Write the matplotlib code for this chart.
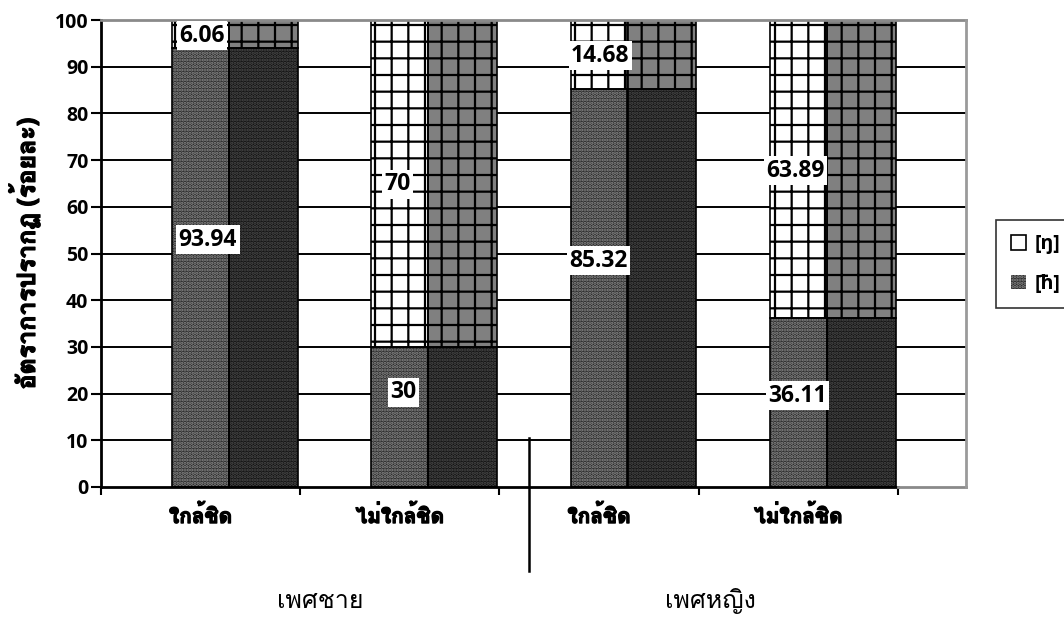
import matplotlib
matplotlib.use("Agg")
import matplotlib.pyplot as plt
import matplotlib.patheffects as pe
from matplotlib import font_manager
from matplotlib.ft2font import FT2Font
from matplotlib.patches import Patch
from matplotlib.lines import Line2D

# --- data -------------------------------------------------------------
categories = ["ใกล้ชิด", "ไม่ใกล้ชิด", "ใกล้ชิด", "ไม่ใกล้ชิด"]
groups = ["เพศชาย", "เพศหญิง"]
series_names = ["[ŋ]", "[ħ]"]
h_values = [93.94, 30, 85.32, 36.11]      # lower segment  [ħ]
ng_values = [6.06, 70, 14.68, 63.89]      # upper segment  [ŋ]
y_ticks = [0, 10, 20, 30, 40, 50, 60, 70, 80, 90, 100]
y_label = "อัตราการปรากฏ (ร้อยละ)"

# label placement (value-axis position of each value box)
ng_label_y = [96.6, 64.8, 92.3, 67.7]
h_label_y = [52.9, 20.3, 48.4, 19.5]
ng_label_dx = [0.15, 0.13, 0.15, 0.13]
h_label_dx = [0.18, 0.16, 0.14, 0.14]


def thai_families():
    found = []
    for f in font_manager.fontManager.ttflist:
        try:
            cmap = FT2Font(f.fname).get_charmap()
        except Exception:
            continue
        if 0x0E01 in cmap and f.name not in found:
            found.append(f.name)
    return found


thai = thai_families()
sans = ["Open Sans"] + thai + ["DejaVu Sans"]
plt.rcParams["font.family"] = sans
plt.rcParams["hatch.linewidth"] = 1.6

# heavier strokes for Thai text whose font has no bold face
thick = [pe.withStroke(linewidth=0.9, foreground="black")]

fig = plt.figure(figsize=(10.64, 6.17), dpi=100)
ax = fig.add_axes([101 / 1064, 1 - 487 / 617, 865 / 1064, 467 / 617])

unit = 199.25
xmax = 865 / unit
bar_off = 71 / unit
front_w = 57 / unit
side_w = 69 / unit

ax.set_xlim(0, xmax)
ax.set_ylim(0, 100)

# gridlines
for v in y_ticks[1:-1]:
    ax.plot([0, xmax], [v, v], color="black", lw=1.4, zorder=1)

front_h = dict(facecolor="#2a2a2a", hatch=".....", edgecolor="#8c8c8c")
side_h = dict(facecolor="#121212", hatch=".....", edgecolor="#4c4c4c")
front_ng = dict(facecolor="white", hatch="+", edgecolor="black")
side_ng = dict(facecolor="#808080", hatch="+", edgecolor="black")

for i in range(len(categories)):
    left = i + bar_off
    for x0, w, sh, sn in ((left, front_w, front_h, front_ng),
                          (left + front_w, side_w, side_h, side_ng)):
        ax.bar(x0, h_values[i], width=w, align="edge", lw=0, zorder=2, **sh)
        ax.bar(x0, ng_values[i], bottom=h_values[i], width=w, align="edge",
               lw=0, zorder=2, **sn)
        ax.bar(x0, h_values[i], width=w, align="edge", fill=False,
               edgecolor="black", lw=1.2, zorder=3)
        ax.bar(x0, ng_values[i], bottom=h_values[i], width=w, align="edge",
               fill=False, edgecolor="black", lw=1.2, zorder=3)

    box = dict(facecolor="white", edgecolor="none", pad=1.8)
    ax.text(left + ng_label_dx[i], ng_label_y[i], f"{ng_values[i]:g}",
            ha="center", va="center", fontsize=16.5, fontweight="bold",
            bbox=box, zorder=5)
    ax.text(left + h_label_dx[i], h_label_y[i], f"{h_values[i]:g}",
            ha="center", va="center", fontsize=16.5, fontweight="bold",
            bbox=box, zorder=5)

# frame
for s in ax.spines.values():
    s.set_visible(False)
ax.plot([0, 0], [0, 100], color="black", lw=2, zorder=4, clip_on=False)
ax.plot([0, 4], [0, 0], color="black", lw=2, zorder=4, clip_on=False)
ax.plot([4, xmax], [0, 0], color="#8a8a8a", lw=2, zorder=4, clip_on=False)
ax.plot([0, xmax], [100, 100], color="#8a8a8a", lw=2, zorder=4, clip_on=False)
ax.plot([xmax, xmax], [0, 100], color="#9a9a9a", lw=2, zorder=4, clip_on=False)

ax.set_yticks(y_ticks)
ax.set_yticklabels([str(v) for v in y_ticks], fontsize=14, fontweight="bold")
ax.tick_params(axis="y", length=7, width=1.5, direction="out", pad=2)

ax.set_xticks([0, 1, 2, 3, 4])
ax.set_xticklabels([])
ax.tick_params(axis="x", which="major", length=6, width=1.5, direction="out")
ax.set_xticks([0.5, 1.5, 2.5, 3.5], minor=True)
ax.set_xticklabels(categories, minor=True, fontsize=15, fontweight="bold")
ax.tick_params(axis="x", which="minor", length=0, pad=13)
for t in ax.get_xticklabels(minor=True):
    t.set_path_effects(thick)

ax.set_ylabel(y_label, fontsize=18, fontweight="bold", labelpad=10)
ax.yaxis.label.set_path_effects(thick)

# group captions and separator
fig.text(320 / 1064, 1 - 601 / 617, groups[0], ha="center", va="center",
         fontsize=18)
fig.text(710 / 1064, 1 - 601 / 617, groups[1], ha="center", va="center",
         fontsize=18)
fig.add_artist(Line2D([529 / 1064, 529 / 1064], [1 - 438 / 617, 1 - 571 / 617],
                      color="black", lw=1.8))

handles = [
    Patch(facecolor="white", edgecolor="black", lw=1.2),
    Patch(facecolor="#2a2a2a", hatch=".....", edgecolor="#8c8c8c", lw=0),
]
leg = fig.legend(handles, series_names, loc="center left",
                 bbox_to_anchor=(996 / 1064, 1 - 264 / 617),
                 prop=dict(weight="bold", size=14), frameon=True,
                 fancybox=False, edgecolor="black", handlelength=0.8,
                 handleheight=0.8, handletextpad=0.45, borderpad=0.75,
                 labelspacing=1.0, borderaxespad=0)
leg.get_frame().set_linewidth(1.2)

fig.savefig("out.png", dpi=100)
